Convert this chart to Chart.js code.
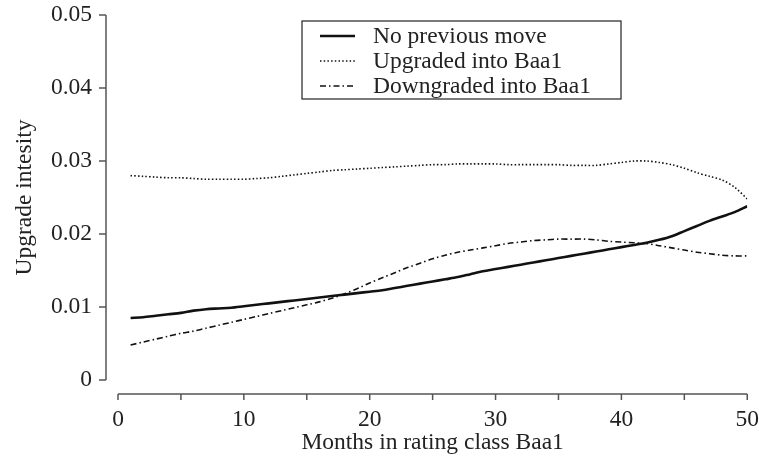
<!DOCTYPE html>
<html>
<head>
<meta charset="utf-8">
<script src="https://cdn.jsdelivr.net/npm/chart.js@4/dist/chart.umd.min.js"></script>
<style>
  body { margin: 0; background: #fff; }
  #wrap { width: 759px; height: 457px; position: relative; }
</style>
</head>
<body>
<div id="wrap"><canvas id="chart"></canvas></div>
<script>
// Months in rating class Baa1
const months = [1,2,3,4,5,6,7,8,9,10,11,12,13,14,15,16,17,18,19,20,21,22,23,24,25,
  26,27,28,29,30,31,32,33,34,35,36,37,38,39,40,41,42,43,44,45,46,47,48,49,50];

// Upgrade intensity per group
const noMove = [.0085,.0086,.0088,.0090,.0092,.0095,.0097,.0098,.0099,.0101,
  .0103,.0105,.0107,.0109,.0111,.0113,.0115,.0117,.0119,.0121,
  .0123,.0126,.0129,.0132,.0135,.0138,.0141,.0145,.0149,.0152,
  .0155,.0158,.0161,.0164,.0167,.0170,.0173,.0176,.0179,.0182,
  .0185,.0188,.0192,.0197,.0204,.0211,.0218,.0224,.0230,.0238];

const upgraded = [.0280,.0279,.0278,.0277,.0277,.0276,.0275,.0275,.0275,.0275,
  .0276,.0277,.0279,.0281,.0283,.0285,.0287,.0288,.0289,.0290,
  .0291,.0292,.0293,.0294,.0295,.0295,.0296,.0296,.0296,.0296,
  .0295,.0295,.0295,.0295,.0295,.0294,.0294,.0294,.0296,.0298,
  .0300,.0300,.0298,.0295,.0290,.0284,.0279,.0274,.0264,.0248];

const downgraded = [.0048,.0052,.0056,.0060,.0064,.0067,.0071,.0075,.0079,.0083,
  .0087,.0091,.0095,.0099,.0103,.0107,.0112,.0118,.0125,.0133,
  .0140,.0147,.0154,.0160,.0166,.0171,.0175,.0178,.0181,.0184,
  .0187,.0189,.0191,.0192,.0193,.0193,.0193,.0192,.0190,.0189,
  .0188,.0187,.0184,.0181,.0178,.0175,.0173,.0171,.0170,.0170];

const seriesLabels = ['No previous move', 'Upgraded into Baa1', 'Downgraded into Baa1'];
const xLabelTicks = [0, 10, 20, 30, 40, 50];
const xTicks = [0, 5, 10, 15, 20, 25, 30, 35, 40, 45, 50];
const yTicks = [0, 0.01, 0.02, 0.03, 0.04, 0.05];

const FONT = 'Liberation Serif, Times New Roman, serif';
const FONT_SIZE = 23.5;
const TEXT = '#222';
const AXIS = '#555';

function toPoints(values) {
  return months.map((m, i) => ({ x: m, y: values[i] }));
}

// Detached axis lines and tick marks, drawn from the scales
const detachedAxes = {
  id: 'detachedAxes',
  afterDraw(chart) {
    const { ctx, scales: { x, y } } = chart;
    ctx.save();
    ctx.strokeStyle = AXIS;
    ctx.lineWidth = 1.5;

    // y axis
    const ax = chart.chartArea.left - 12;
    ctx.beginPath();
    ctx.moveTo(ax, y.getPixelForValue(0));
    ctx.lineTo(ax, y.getPixelForValue(0.05));
    yTicks.forEach(v => {
      const py = y.getPixelForValue(v);
      ctx.moveTo(ax, py);
      ctx.lineTo(ax - 7, py);
    });
    ctx.stroke();

    // x axis
    const ay = chart.chartArea.bottom + 14;
    ctx.beginPath();
    ctx.moveTo(x.getPixelForValue(0), ay);
    ctx.lineTo(x.getPixelForValue(50), ay);
    xTicks.forEach(v => {
      const px = x.getPixelForValue(v);
      ctx.moveTo(px, ay);
      ctx.lineTo(px, ay + 6);
    });
    ctx.stroke();
    ctx.restore();
  }
};

// Boxed legend inside the plot
const boxLegend = {
  id: 'boxLegend',
  afterDraw(chart) {
    const { ctx } = chart;
    const left = 302, top = 21, w = 319, h = 78;
    ctx.save();
    ctx.fillStyle = '#fff';
    ctx.fillRect(left, top, w, h);
    ctx.strokeStyle = '#222';
    ctx.lineWidth = 1.2;
    ctx.strokeRect(left, top, w, h);

    ctx.font = FONT_SIZE + 'px ' + FONT;
    ctx.textBaseline = 'middle';
    chart.data.datasets.forEach((ds, i) => {
      const cy = top + 15 + i * 25;
      ctx.strokeStyle = ds.borderColor;
      ctx.lineWidth = ds.borderWidth;
      ctx.setLineDash(ds.borderDash || []);
      ctx.beginPath();
      ctx.moveTo(left + 18, cy);
      ctx.lineTo(left + 53, cy);
      ctx.stroke();
      ctx.setLineDash([]);
      ctx.fillStyle = TEXT;
      ctx.fillText(ds.label, left + 71, cy + 1);
    });
    ctx.restore();
  }
};

const ctx = document.getElementById('chart').getContext('2d');

new Chart(ctx, {
  type: 'line',
  data: {
    datasets: [
      {
        label: seriesLabels[0],
        data: toPoints(noMove),
        borderColor: '#111',
        borderWidth: 2.6,
        pointRadius: 0,
        tension: 0.3
      },
      {
        label: seriesLabels[1],
        data: toPoints(upgraded),
        borderColor: '#111',
        borderWidth: 1.6,
        borderDash: [1.5, 2.2],
        pointRadius: 0,
        tension: 0.3
      },
      {
        label: seriesLabels[2],
        data: toPoints(downgraded),
        borderColor: '#111',
        borderWidth: 1.6,
        borderDash: [6, 3, 1.5, 3],
        pointRadius: 0,
        tension: 0.3
      }
    ]
  },
  options: {
    responsive: true,
    maintainAspectRatio: false,
    animation: false,
    layout: { padding: { top: 15, right: 11, left: 0, bottom: 0 } },
    plugins: {
      legend: { display: false },
      tooltip: { enabled: false }
    },
    scales: {
      x: {
        type: 'linear',
        min: 0,
        max: 50,
        afterFit: s => { s.height = 77; },
        afterBuildTicks: s => { s.ticks = xLabelTicks.map(v => ({ value: v })); },
        // tick marks hidden; tickLength only pushes the labels away from the plot
        grid: { display: false, drawTicks: true, tickLength: 26 },
        border: { display: false },
        ticks: {
          padding: 0,
          color: TEXT,
          font: { family: FONT, size: FONT_SIZE },
          maxRotation: 0
        },
        title: {
          display: true,
          text: 'Months in rating class Baa1',
          color: TEXT,
          font: { family: FONT, size: FONT_SIZE },
          padding: { top: 0, bottom: 0 }
        }
      },
      y: {
        min: 0,
        max: 0.05,
        afterFit: s => { s.width = 118; },
        afterBuildTicks: s => { s.ticks = yTicks.map(v => ({ value: v })); },
        grid: { display: false, drawTicks: true, tickLength: 26 },
        border: { display: false },
        ticks: {
          padding: 0,
          color: TEXT,
          font: { family: FONT, size: FONT_SIZE },
          callback: v => (v === 0 ? '0' : v.toFixed(2))
        },
        title: {
          display: true,
          text: 'Upgrade intesity',
          color: TEXT,
          font: { family: FONT, size: FONT_SIZE },
          padding: { top: 11, bottom: 0 }
        }
      }
    }
  },
  plugins: [detachedAxes, boxLegend]
});
</script>
</body>
</html>
